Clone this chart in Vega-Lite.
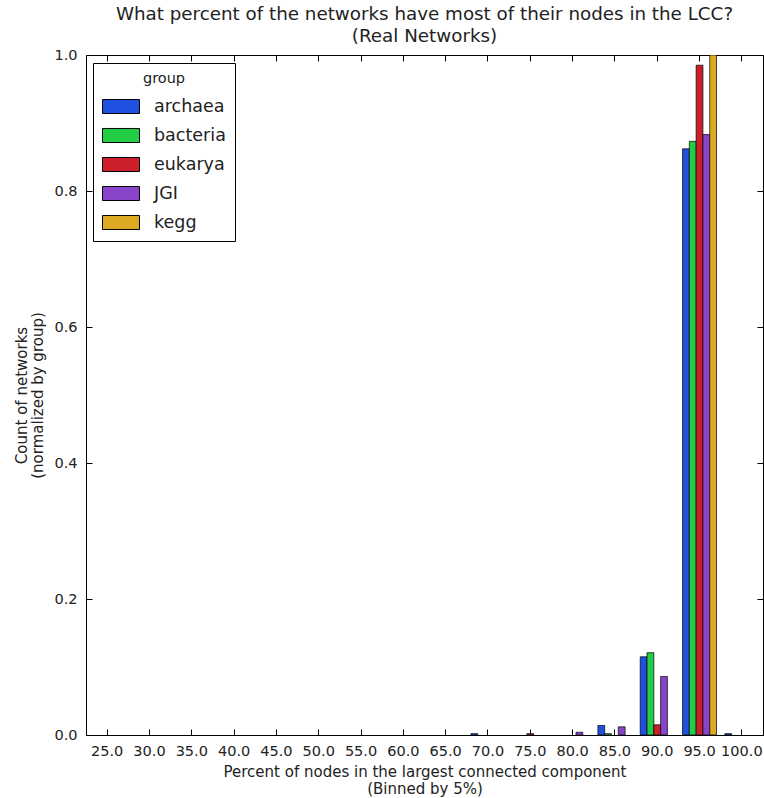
{
  "$schema": "https://vega.github.io/schema/vega-lite/v6.json",
  "autosize": "none",
  "padding": {"left": 86, "top": 55, "right": 1, "bottom": 63},
  "width": 677,
  "height": 680,
  "background": "white",
  "title": {
    "text": ["What percent of the networks have most of their nodes in the LCC?", "(Real Networks)"],
    "anchor": "middle",
    "frame": "group",
    "font": "DejaVu Sans",
    "fontSize": 18.3,
    "fontWeight": "normal",
    "color": "#222222",
    "offset": 1,
    "lineHeight": 22
  },
  "config": {
    "view": {"stroke": "black", "strokeWidth": 1},
    "font": "DejaVu Sans",
    "axis": {
      "labelFont": "DejaVu Sans",
      "titleFont": "DejaVu Sans",
      "labelFontSize": 14.5,
      "titleFontSize": 15,
      "titleFontWeight": "normal",
      "labelColor": "#222222",
      "titleColor": "#222222",
      "tickColor": "black",
      "tickWidth": 1,
      "domainColor": "black",
      "grid": false
    }
  },
  "data": {
    "values": [
      {"bin": "70.0", "group": "archaea", "value": 0.002},
      {"bin": "75.0", "group": "eukarya", "value": 0.002},
      {"bin": "80.0", "group": "JGI", "value": 0.004},
      {"bin": "85.0", "group": "archaea", "value": 0.014},
      {"bin": "85.0", "group": "bacteria", "value": 0.002},
      {"bin": "85.0", "group": "JGI", "value": 0.012},
      {"bin": "90.0", "group": "archaea", "value": 0.115},
      {"bin": "90.0", "group": "bacteria", "value": 0.121},
      {"bin": "90.0", "group": "eukarya", "value": 0.015},
      {"bin": "90.0", "group": "JGI", "value": 0.086},
      {"bin": "95.0", "group": "archaea", "value": 0.862},
      {"bin": "95.0", "group": "bacteria", "value": 0.873},
      {"bin": "95.0", "group": "eukarya", "value": 0.985},
      {"bin": "95.0", "group": "JGI", "value": 0.883},
      {"bin": "95.0", "group": "kegg", "value": 1.0},
      {"bin": "100.0", "group": "archaea", "value": 0.002}
    ]
  },
  "resolve": {"axis": {"x": "independent", "y": "independent"}},
  "layer": [
    {
      "mark": {"type": "bar", "stroke": "black", "strokeWidth": 0.7, "clip": true, "opacity": 1},
      "encoding": {
        "x": {
          "field": "bin",
          "type": "nominal",
          "sort": null,
          "scale": {
            "domain": ["25.0","30.0","35.0","40.0","45.0","50.0","55.0","60.0","65.0","70.0","75.0","80.0","85.0","90.0","95.0","100.0"],
            "paddingInner": 0,
            "paddingOuter": 0
          },
          "axis": {
            "orient": "bottom",
            "labelAngle": 0,
            "ticks": true,
            "tickSize": -6,
            "labelPadding": 15,
            "title": ["Percent of nodes in the largest connected component", "(Binned by 5%)"],
            "titlePadding": 7,
            "titleLineHeight": 17
          }
        },
        "xOffset": {
          "field": "group",
          "type": "nominal",
          "scale": {
            "domain": ["archaea", "bacteria", "eukarya", "JGI", "kegg"],
            "paddingInner": 0,
            "paddingOuter": 0.61
          }
        },
        "y": {
          "field": "value",
          "type": "quantitative",
          "scale": {"domain": [0, 1], "nice": false, "zero": true},
          "axis": {
            "orient": "left",
            "values": [0, 0.2, 0.4, 0.6, 0.8, 1.0],
            "format": ".1f",
            "ticks": true,
            "tickSize": -6,
            "labelPadding": 15,
            "title": ["Count of networks", "(normalized by group)"],
            "titlePadding": 8,
            "titleLineHeight": 16
          }
        },
        "color": {
          "field": "group",
          "type": "nominal",
          "scale": {
            "domain": ["archaea", "bacteria", "eukarya", "JGI", "kegg"],
            "range": ["#1f50e0", "#22cc44", "#cc1f2a", "#8a44cc", "#dcaa22"]
          },
          "legend": {
            "orient": "none",
            "legendX": 7,
            "legendY": 8,
            "title": "group",
            "titleFont": "DejaVu Sans",
            "titleFontSize": 14.5,
            "titleFontWeight": "normal",
            "titleColor": "#222222",
            "titleAnchor": "middle",
            "titleAlign": "center",
            "titlePadding": 1,
            "labelFont": "DejaVu Sans",
            "labelFontSize": 17.5,
            "labelColor": "#222222",
            "labelOffset": 14,
            "symbolType": "M-1,-0.38H1V0.38H-1Z",
            "symbolSize": 1369,
            "symbolStrokeColor": "black",
            "symbolStrokeWidth": 1,
            "symbolOpacity": 1,
            "rowPadding": 0,
            "strokeColor": "black",
            "fillColor": "white",
            "padding": 9,
            "cornerRadius": 0
          }
        }
      }
    },
    {
      "mark": {"type": "bar", "opacity": 0},
      "encoding": {
        "x": {
          "field": "bin",
          "type": "nominal",
          "sort": null,
          "axis": {"orient": "top", "labels": false, "title": null, "domain": false, "ticks": true, "tickSize": -6}
        },
        "xOffset": {"field": "group", "type": "nominal"},
        "y": {
          "field": "value",
          "type": "quantitative",
          "axis": {"orient": "right", "labels": false, "title": null, "domain": false, "ticks": true, "tickSize": -6, "values": [0, 0.2, 0.4, 0.6, 0.8, 1.0]}
        }
      }
    }
  ]
}
